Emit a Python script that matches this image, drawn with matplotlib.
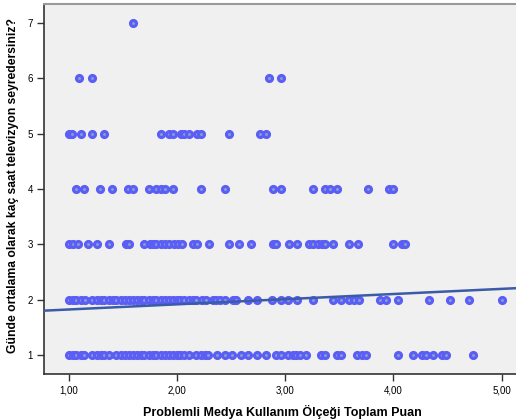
import numpy as np
import matplotlib
matplotlib.use("Agg")
import matplotlib.pyplot as plt
from matplotlib.ticker import FuncFormatter

plt.rcParams['font.family'] = ['Liberation Sans', 'DejaVu Sans']

# values (x = scale score, y = hours of TV per day)
row1 = [1.00, 1.04, 1.07, 1.11, 1.14, 1.22, 1.26, 1.30, 1.33, 1.37, 1.44, 1.48, 1.52,
        1.56, 1.59, 1.63, 1.67, 1.70, 1.74, 1.78, 1.81, 1.85, 1.89, 1.93, 1.96, 2.00,
        2.03, 2.07, 2.11, 2.18, 2.22, 2.26, 2.29, 2.37, 2.44, 2.51, 2.59, 2.66, 2.74,
        2.82, 2.92, 2.96, 3.03, 3.07, 3.10, 3.14, 3.19, 3.33, 3.37, 3.48, 3.52, 3.66,
        3.71, 3.75, 4.04, 4.18, 4.26, 4.30, 4.37, 4.45, 4.49, 4.74]
row2 = [1.00, 1.04, 1.07, 1.11, 1.15, 1.22, 1.26, 1.30, 1.33, 1.37, 1.41, 1.44, 1.48,
        1.52, 1.56, 1.59, 1.63, 1.67, 1.70, 1.74, 1.78, 1.81, 1.85, 1.89, 1.93, 1.96,
        2.00, 2.03, 2.07, 2.11, 2.15, 2.18, 2.23, 2.27, 2.33, 2.36, 2.40, 2.44, 2.52,
        2.55, 2.66, 2.74, 2.88, 2.96, 3.03, 3.11, 3.26, 3.44, 3.52, 3.59, 3.64, 3.68,
        3.88, 3.93, 4.04, 4.33, 4.52, 4.70, 5.00]
row3 = [1.00, 1.04, 1.09, 1.18, 1.26, 1.37, 1.53, 1.56, 1.70, 1.75, 1.78, 1.81, 1.85,
        1.89, 1.93, 1.97, 2.01, 2.05, 2.15, 2.19, 2.30, 2.48, 2.57, 2.68, 2.89, 2.92,
        3.04, 3.11, 3.22, 3.26, 3.30, 3.34, 3.37, 3.44, 3.59, 3.67, 4.00, 4.08, 4.11]
row4 = [1.07, 1.14, 1.29, 1.40, 1.55, 1.59, 1.74, 1.81, 1.85, 1.89, 1.96, 2.22, 2.44,
        2.89, 2.96, 3.26, 3.37, 3.41, 3.48, 3.77, 3.96, 4.00]
row5 = [1.00, 1.03, 1.11, 1.22, 1.33, 1.85, 1.93, 1.96, 2.04, 2.07, 2.11, 2.19, 2.22,
        2.48, 2.77, 2.82]
row6 = [1.10, 1.22, 2.85, 2.96]
row7 = [1.59]

x_ticks = [1.0, 2.0, 3.0, 4.0, 5.0]
y_ticks = [1, 2, 3, 4, 5, 6, 7]

# linear fit line as shown in the output (intercept, slope)
fit_intercept = 1.733
fit_slope = 0.093

xs = row1 + row2 + row3 + row4 + row5 + row6 + row7
ys = ([1] * len(row1) + [2] * len(row2) + [3] * len(row3) + [4] * len(row4)
      + [5] * len(row5) + [6] * len(row6) + [7] * len(row7))

fig = plt.figure(figsize=(5.16, 4.19), dpi=100)
ax = fig.add_axes([44 / 516, 45 / 419, 476 / 516, 370 / 419])
ax.set_facecolor('#f0f0f0')

ax.scatter(xs, ys, s=19, facecolor='#7fa3c8', edgecolor='#5c5cf6',
           linewidths=2.2, zorder=3)

x0, x1 = 0.772, 5.17
lx = np.array([x0, x1])
ax.plot(lx, fit_intercept + fit_slope * lx, color='#3a5ba8', linewidth=1.8, zorder=4)

ax.set_xlim(x0, x1)
ax.set_ylim(0.662, 7.338)
ax.set_xticks(x_ticks)
ax.set_yticks(y_ticks)
ax.xaxis.set_major_formatter(FuncFormatter(lambda v, p: f"{v:.2f}".replace('.', ',')))
ax.tick_params(axis='both', labelsize=7, length=5, width=1, color='#333333',
               direction='out', pad=3)

for side in ['left', 'bottom']:
    ax.spines[side].set_color('#333333')
    ax.spines[side].set_linewidth(1.2)
ax.spines['top'].set_color('#999999')
ax.spines['top'].set_linewidth(1.5)
ax.spines['right'].set_visible(False)

ax.set_xlabel('Problemli Medya Kullanım Ölçeği Toplam Puan', fontsize=9,
              fontweight='bold', labelpad=7)
ax.set_ylabel('Günde ortalama olarak kaç saat televizyon seyredersiniz?', fontsize=8.7,
              fontweight='bold')
ax.yaxis.set_label_coords(-0.052, 0.51)

fig.savefig('out.png', dpi=100)
